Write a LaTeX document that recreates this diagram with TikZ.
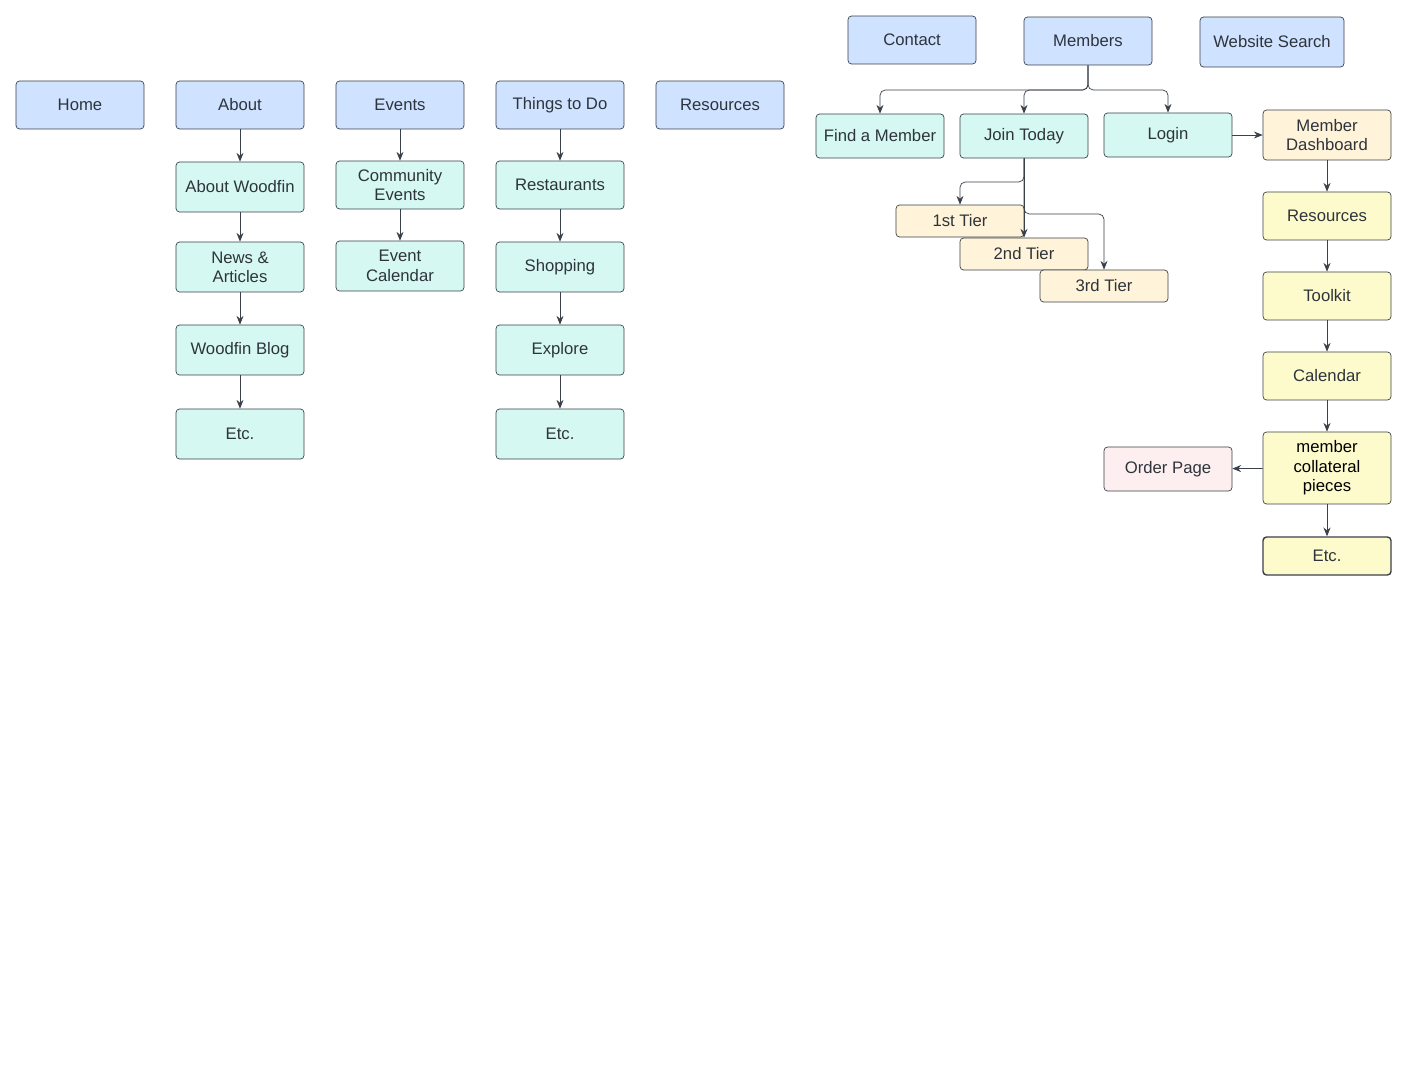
\documentclass[tikz,border=0pt]{standalone}
\usepackage{fontspec}
\setmainfont{Liberation Sans}
\usetikzlibrary{arrows.meta,positioning}
\definecolor{navblue}{HTML}{CFE2FF}
\definecolor{subgreen}{HTML}{D6F8F2}
\definecolor{tierorange}{HTML}{FFF3D9}
\definecolor{dashyellow}{HTML}{FDFBCB}
\definecolor{orderpink}{HTML}{FDEFEF}
\definecolor{edgegray}{HTML}{3A414A}
\tikzset{
  box/.style={draw=edgegray, rounded corners=2pt, minimum width=2.56cm, minimum height=0.96cm,
    align=center, font=\fontsize{9.5}{11}\selectfont, text=edgegray!80!black, inner sep=1pt},
  nav/.style={box, fill=navblue},
  sub/.style={box, fill=subgreen, minimum height=1cm},
  tier/.style={box, fill=tierorange, minimum height=0.64cm},
  dashbox/.style={box, fill=dashyellow},
  link/.style={draw=edgegray, -{Stealth[length=5pt,width=4pt]}}
}
\begin{document}
\begin{tikzpicture}[x=0.02cm, y=-0.02cm]
    \useasboundingbox (0,0) rectangle (1408,1088);
    % Top navigation
    \node[nav] (home) at (80,105) {Home};
    \node[nav] (about) at (240,105) {About};
    \node[nav] (events) at (400,105) {Events};
    \node[nav] (things) at (560,105) {Things to Do};
    \node[nav] (resources) at (720,105) {Resources};
    \node[nav] (contact) at (912,40) {Contact};
    \node[nav] (members) at (1088,41) {Members};
    \node[nav, minimum width=2.88cm, minimum height=1cm] (search) at (1272,42) {Website Search};

    % About column
    \node[sub] (aboutwoodfin) at (240,187) {About Woodfin};
    \node[sub] (news) at (240,267) {News \&\\Articles};
    \node[sub] (blog) at (240,350) {Woodfin Blog};
    \node[sub] (aboutetc) at (240,434) {Etc.};

    % Events column
    \node[sub, minimum height=0.96cm] (community) at (400,185) {Community\\Events};
    \node[sub] (calendarev) at (400,266) {Event\\Calendar};

    % Things to Do column
    \node[sub, minimum height=0.96cm] (restaurants) at (560,185) {Restaurants};
    \node[sub] (shopping) at (560,267) {Shopping};
    \node[sub] (explore) at (560,350) {Explore};
    \node[sub] (thingsetc) at (560,434) {Etc.};

    % Members area
    \node[sub, minimum height=0.88cm] (findmember) at (880,136) {Find a Member};
    \node[sub, minimum height=0.88cm] (join) at (1024,136) {Join Today};
    \node[sub, minimum height=0.88cm] (login) at (1168,135) {Login};
    \node[tier] (tier1) at (960,221) {1st Tier};
    \node[tier] (tier2) at (1024,254) {2nd Tier};
    \node[tier] (tier3) at (1104,286) {3rd Tier};

    % Member dashboard
    \node[box, fill=tierorange, minimum height=1cm] (dashboard) at (1327,135) {Member\\Dashboard};
    \node[dashbox] (memres) at (1327,216) {Resources};
    \node[dashbox] (toolkit) at (1327,296) {Toolkit};
    \node[dashbox] (calendar) at (1327,376) {Calendar};
    \node[dashbox, minimum height=1.44cm, text=black] (collateral) at (1327,468) {member\\collateral\\pieces};
    \node[box, fill=orderpink, minimum height=0.88cm] (order) at (1168,469) {Order Page};
    \node[dashbox, minimum height=0.76cm, line width=0.8pt] (dashetc) at (1327,556) {Etc.};

    % Edges
    \draw[link] (about) -- (aboutwoodfin);
    \draw[link] (aboutwoodfin) -- (news);
    \draw[link] (news) -- (blog);
    \draw[link] (blog) -- (aboutetc);
    \draw[link] (events) -- (community);
    \draw[link] (community) -- (calendarev);
    \draw[link] (things) -- (restaurants);
    \draw[link] (restaurants) -- (shopping);
    \draw[link] (shopping) -- (explore);
    \draw[link] (explore) -- (thingsetc);
    \draw[link, rounded corners=3pt] (members.south) |- (880,90) -- (findmember.north);
    \draw[link, rounded corners=3pt] (members.south) |- (1024,90) -- (join.north);
    \draw[link, rounded corners=3pt] (members.south) |- (1168,90) -- (login.north);
    \draw[link, rounded corners=3pt] (join.south) |- (960,182) -- (tier1.north);
    \draw[link] (join.south) -- (tier2.north);
    \draw[link, rounded corners=3pt] (join.south) |- (1104,214) -- (tier3.north);
    \draw[link] (login) -- (dashboard);
    \draw[link] (dashboard) -- (memres);
    \draw[link] (memres) -- (toolkit);
    \draw[link] (toolkit) -- (calendar);
    \draw[link] (calendar) -- (collateral);
    \draw[link] (collateral) -- (order);
    \draw[link] (collateral) -- (dashetc);
\end{tikzpicture}
\end{document}
